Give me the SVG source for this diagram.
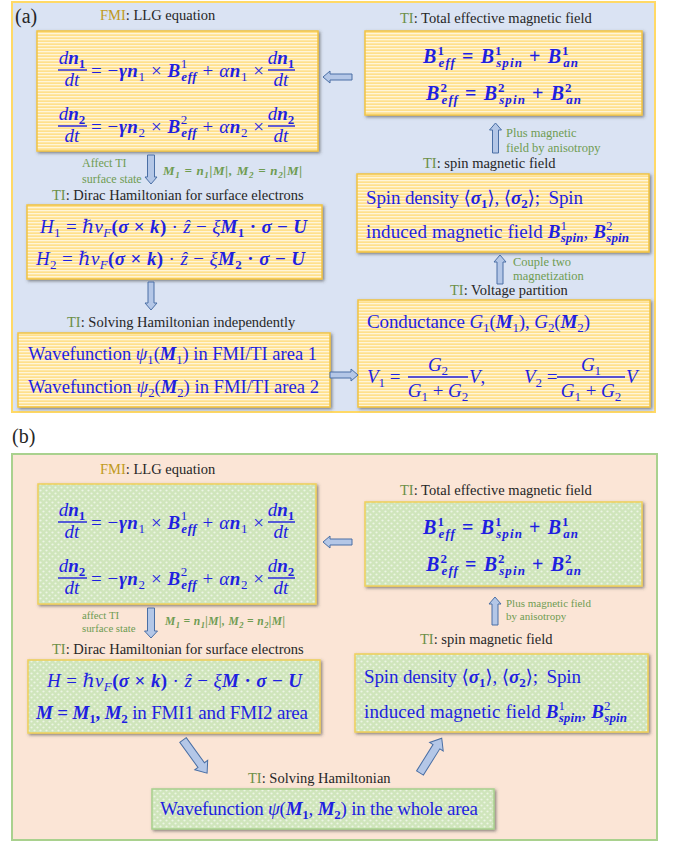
<svg xmlns="http://www.w3.org/2000/svg" width="683" height="844" viewBox="0 0 683 844">
<defs>
<style>
.lab{font-family:"Liberation Serif","DejaVu Serif",serif;font-size:14.5px;fill:#262626}
.ti{fill:#6b8f47}
.fmi{fill:#c09a1c}
.note{font-family:"Liberation Serif","DejaVu Serif",serif;font-size:12.5px;fill:#6f9c52}
.nm{font-family:"Liberation Serif","DejaVu Serif",serif;font-size:13px;fill:#6f9c52;font-weight:bold;font-style:italic}
.m{font-family:"Liberation Serif","DejaVu Serif",serif;fill:#1f1fe0;font-size:19px}
.i{font-style:italic}
.bi{font-style:italic;font-weight:bold}
.bd{font-weight:bold}
.up{font-style:normal}
.sb{font-size:13px}
.fl{stroke:#1f1fe0;stroke-width:1.4}
.boxa{fill:url(#stripes);stroke:#f2c443;stroke-width:1.5;filter:url(#sh)}
.boxb{fill:url(#dots);stroke:#f0cf5a;stroke-width:1.5;filter:url(#sh)}
.boxbw{fill:url(#dots);stroke:#a9d18e;stroke-width:1.5;filter:url(#sh)}
.arr{fill:#b4c7e7;stroke:#4a6fa5;stroke-width:1}
</style>
<pattern id="stripes" width="6" height="3" patternUnits="userSpaceOnUse">
<rect width="6" height="3" fill="#ffe08c"/>
<rect width="6" height="1.3" fill="#fff5d8"/>
</pattern>
<pattern id="dots" width="6" height="6" patternUnits="userSpaceOnUse">
<rect width="6" height="6" fill="#cfe5bb"/>
<circle cx="1.5" cy="1.5" r="1.1" fill="#ecf5e4"/>
<circle cx="4.5" cy="4.5" r="1.1" fill="#ecf5e4"/>
</pattern>
<filter id="sh" x="-10%" y="-10%" width="120%" height="130%">
<feDropShadow dx="1.5" dy="1.5" stdDeviation="1.5" flood-color="#404040" flood-opacity="0.6"/>
</filter>
</defs>

<!-- Panel (a) -->
<g id="panel-a">
<rect x="12" y="2" width="643" height="410" fill="#dae3f3" stroke="#ffd966" stroke-width="2"/>
<text class="lab" x="15" y="23" style="font-size:20px">(a)</text>
</g>

<g id="a-llg">
<text class="lab" x="100" y="20"><tspan class="fmi">FMI</tspan>: LLG equation</text>
<rect class="boxa" x="37" y="31" width="281" height="120"/>
<text class="m i" x="72" y="64" text-anchor="middle">d<tspan class="bi">n</tspan><tspan class="sb bd up" dy="4">1</tspan></text>
<line class="fl" x1="58" y1="70" x2="87" y2="70"/>
<text class="m i" x="72" y="86" text-anchor="middle">dt</text>
<text class="m" x="91" y="77" textLength="173" lengthAdjust="spacing">= −<tspan class="bi">γn</tspan><tspan class="sb" dy="4">1</tspan><tspan dy="-4"> × </tspan><tspan class="bi">B</tspan><tspan class="sb" dy="-9">1</tspan><tspan class="sb bi" dx="-6.5" dy="13">eff</tspan><tspan dy="-4"> + </tspan><tspan class="i">α</tspan><tspan class="bi">n</tspan><tspan class="sb" dy="4">1</tspan><tspan dy="-4"> ×</tspan></text>
<text class="m i" x="281" y="64" text-anchor="middle">d<tspan class="bi">n</tspan><tspan class="sb bd up" dy="4">1</tspan></text>
<line class="fl" x1="268" y1="70" x2="295" y2="70"/>
<text class="m i" x="281" y="86" text-anchor="middle">dt</text>

<text class="m i" x="72" y="120" text-anchor="middle">d<tspan class="bi">n</tspan><tspan class="sb bd up" dy="4">2</tspan></text>
<line class="fl" x1="58" y1="126" x2="87" y2="126"/>
<text class="m i" x="72" y="142" text-anchor="middle">dt</text>
<text class="m" x="91" y="133" textLength="173" lengthAdjust="spacing">= −<tspan class="bi">γn</tspan><tspan class="sb" dy="4">2</tspan><tspan dy="-4"> × </tspan><tspan class="bi">B</tspan><tspan class="sb" dy="-9">2</tspan><tspan class="sb bi" dx="-6.5" dy="13">eff</tspan><tspan dy="-4"> + </tspan><tspan class="i">α</tspan><tspan class="bi">n</tspan><tspan class="sb" dy="4">2</tspan><tspan dy="-4"> ×</tspan></text>
<text class="m i" x="281" y="120" text-anchor="middle">d<tspan class="bi">n</tspan><tspan class="sb bd up" dy="4">2</tspan></text>
<line class="fl" x1="268" y1="126" x2="295" y2="126"/>
<text class="m i" x="281" y="142" text-anchor="middle">dt</text>
</g>

<g id="a-total">
<text class="lab" x="400" y="23"><tspan class="ti">TI</tspan>: Total effective magnetic field</text>
<rect class="boxa" x="365" y="31" width="277" height="84"/>
<text class="m bd" x="423" y="63" style="font-size:20px" textLength="155" lengthAdjust="spacing"><tspan class="bi">B</tspan><tspan class="sb" dy="-8">1</tspan><tspan class="sb bi" dx="-6.5" dy="12">eff</tspan><tspan dy="-4"> = </tspan><tspan class="bi">B</tspan><tspan class="sb" dy="-8">1</tspan><tspan class="sb bi" dx="-6.5" dy="12">spin</tspan><tspan dy="-4"> + </tspan><tspan class="bi">B</tspan><tspan class="sb" dy="-8">1</tspan><tspan class="sb bi" dx="-6.5" dy="12">an</tspan></text>
<text class="m bd" x="426" y="100" style="font-size:20px" textLength="155" lengthAdjust="spacing"><tspan class="bi">B</tspan><tspan class="sb" dy="-8">2</tspan><tspan class="sb bi" dx="-6.5" dy="12">eff</tspan><tspan dy="-4"> = </tspan><tspan class="bi">B</tspan><tspan class="sb" dy="-8">2</tspan><tspan class="sb bi" dx="-6.5" dy="12">spin</tspan><tspan dy="-4"> + </tspan><tspan class="bi">B</tspan><tspan class="sb" dy="-8">2</tspan><tspan class="sb bi" dx="-6.5" dy="12">an</tspan></text>
</g>

<g id="a-spin">
<text class="lab" x="423" y="168"><tspan class="ti">TI</tspan>: spin magnetic field</text>
<rect class="boxa" x="357" y="174" width="292" height="78"/>
<text class="m" x="366" y="204" textLength="217" lengthAdjust="spacing">Spin density ⟨<tspan class="bi">σ</tspan><tspan class="sb bd" dy="4">1</tspan><tspan dy="-4">⟩, ⟨</tspan><tspan class="bi">σ</tspan><tspan class="sb bd" dy="4">2</tspan><tspan dy="-4">⟩; </tspan><tspan dx="4">Spin</tspan></text>
<text class="m" x="366" y="238" textLength="263" lengthAdjust="spacing">induced magnetic field <tspan class="bi">B</tspan><tspan class="sb" dy="-8">1</tspan><tspan class="sb bi" dx="-6.5" dy="12">spin</tspan><tspan dy="-4">, </tspan><tspan class="bi">B</tspan><tspan class="sb" dy="-8">2</tspan><tspan class="sb bi" dx="-6.5" dy="12">spin</tspan></text>
</g>

<g id="a-volt">
<text class="lab" x="450" y="295"><tspan class="ti">TI</tspan>: Voltage partition</text>
<rect class="boxa" x="358" y="300" width="292" height="107"/>
<text class="m" x="367" y="328" textLength="223" lengthAdjust="spacing">Conductance <tspan class="i">G</tspan><tspan class="sb" dy="4">1</tspan><tspan dy="-4">(</tspan><tspan class="bi">M</tspan><tspan class="sb" dy="4">1</tspan><tspan dy="-4">), </tspan><tspan class="i">G</tspan><tspan class="sb" dy="4">2</tspan><tspan dy="-4">(</tspan><tspan class="bi">M</tspan><tspan class="sb" dy="4">2</tspan><tspan dy="-4">)</tspan></text>
<text class="m" x="367" y="383"><tspan class="i">V</tspan><tspan class="sb" dy="4">1</tspan><tspan dy="-4"> =</tspan></text>
<text class="m i" x="438" y="371" text-anchor="middle">G<tspan class="sb up" dy="4">2</tspan></text>
<line class="fl" x1="408" y1="377" x2="468" y2="377"/>
<text class="m i" x="438" y="397" text-anchor="middle">G<tspan class="sb up" dy="4">1</tspan><tspan class="up" dy="-4"> + </tspan>G<tspan class="sb up" dy="4">2</tspan></text>
<text class="m" x="469" y="383"><tspan class="i">V</tspan>,</text>
<text class="m" x="524" y="383"><tspan class="i">V</tspan><tspan class="sb" dy="4">2</tspan><tspan dy="-4"> =</tspan></text>
<text class="m i" x="591" y="371" text-anchor="middle">G<tspan class="sb up" dy="4">1</tspan></text>
<line class="fl" x1="557" y1="377" x2="625" y2="377"/>
<text class="m i" x="591" y="397" text-anchor="middle">G<tspan class="sb up" dy="4">1</tspan><tspan class="up" dy="-4"> + </tspan>G<tspan class="sb up" dy="4">2</tspan></text>
<text class="m i" x="626" y="383">V</text>
</g>

<g id="a-ham">
<text class="lab" x="52" y="200"><tspan class="ti">TI</tspan>: Dirac Hamiltonian for surface electrons</text>
<rect class="boxa" x="27" y="205" width="295" height="74"/>
<text class="m" x="40" y="233" textLength="267" lengthAdjust="spacing"><tspan class="i">H</tspan><tspan class="sb" dy="4">1</tspan><tspan dy="-4"> = </tspan><tspan class="i">ℏv</tspan><tspan class="sb i" dy="4">F</tspan><tspan class="bd" dy="-4">(</tspan><tspan class="bi">σ</tspan><tspan class="bd"> × </tspan><tspan class="bi">k</tspan><tspan class="bd">)</tspan> · <tspan class="i">ẑ</tspan> − <tspan class="i">ξ</tspan><tspan class="bi">M</tspan><tspan class="sb bd" dy="4">1</tspan><tspan class="bd" dy="-4"> · </tspan><tspan class="bi">σ</tspan><tspan class="bd"> − </tspan><tspan class="bi">U</tspan></text>
<text class="m" x="36" y="265" textLength="269" lengthAdjust="spacing"><tspan class="i">H</tspan><tspan class="sb" dy="4">2</tspan><tspan dy="-4"> = </tspan><tspan class="i">ℏv</tspan><tspan class="sb i" dy="4">F</tspan><tspan class="bd" dy="-4">(</tspan><tspan class="bi">σ</tspan><tspan class="bd"> × </tspan><tspan class="bi">k</tspan><tspan class="bd">)</tspan> · <tspan class="i">ẑ</tspan> − <tspan class="i">ξ</tspan><tspan class="bi">M</tspan><tspan class="sb bd" dy="4">2</tspan><tspan class="bd" dy="-4"> · </tspan><tspan class="bi">σ</tspan><tspan class="bd"> − </tspan><tspan class="bi">U</tspan></text>
</g>

<g id="a-wave">
<text class="lab" x="67" y="327"><tspan class="ti">TI</tspan>: Solving Hamiltonian independently</text>
<rect class="boxa" x="18" y="333" width="312" height="74"/>
<text class="m" x="28" y="360" textLength="289" lengthAdjust="spacingAndGlyphs">Wavefunction <tspan class="i">ψ</tspan><tspan class="sb" dy="4">1</tspan><tspan dy="-4">(</tspan><tspan class="bi">M</tspan><tspan class="sb" dy="4">1</tspan><tspan dy="-4">) in FMI/TI area 1</tspan></text>
<text class="m" x="28" y="393" textLength="291" lengthAdjust="spacingAndGlyphs">Wavefunction <tspan class="i">ψ</tspan><tspan class="sb" dy="4">2</tspan><tspan dy="-4">(</tspan><tspan class="bi">M</tspan><tspan class="sb" dy="4">2</tspan><tspan dy="-4">) in FMI/TI area 2</tspan></text>
</g>

<g id="a-connectors">
<path class="arr" d="M352,74 H330 V71 L323,77 L330,83 V80 H352 Z"/>
<path class="arr" d="M147.5,155 H154.5 V177 H157 L151,184 L145,177 H147.5 Z"/>
<path class="arr" d="M148,282 H154 V303 H157 L151,310 L145,303 H148 Z"/>
<path class="arr" d="M330,372 H351 V369 L358,375 L351,381 V378 H330 Z"/>
<path class="arr" d="M492.5,153 V130 H489.5 L495.5,123 L501.5,130 H498.5 V153 Z"/>
<path class="arr" d="M497,284 V262 H494 L500,255 L506,262 H503 V284 Z"/>
<text class="note" x="82" y="167" style="font-size:12px">Affect TI</text>
<text class="note" x="82" y="183" style="font-size:12px">surface state</text>
<text class="nm" x="163" y="175" textLength="139" lengthAdjust="spacing">M<tspan font-size="9" dy="3">1</tspan><tspan dy="-3"> = </tspan>n<tspan font-size="9" dy="3">1</tspan><tspan dy="-3">|M|, M</tspan><tspan font-size="9" dy="3">2</tspan><tspan dy="-3"> = </tspan>n<tspan font-size="9" dy="3">2</tspan><tspan dy="-3">|M|</tspan></text>
<text class="note" x="506" y="137">Plus magnetic</text>
<text class="note" x="506" y="152">field by anisotropy</text>
<text class="note" x="513" y="266">Couple two</text>
<text class="note" x="513" y="280">magnetization</text>
</g>

<!-- Panel (b) -->
<g id="panel-b">
<text class="lab" x="12" y="443" style="font-size:20px">(b)</text>
<rect x="12" y="454" width="645" height="386" fill="#fbe5d6" stroke="#a9d18e" stroke-width="2"/>
</g>

<g id="b-llg">
<text class="lab" x="100" y="474"><tspan class="fmi">FMI</tspan>: LLG equation</text>
<rect class="boxb" x="38" y="484" width="278" height="120"/>
<text class="m i" x="72" y="516" text-anchor="middle">d<tspan class="bi">n</tspan><tspan class="sb bd up" dy="4">1</tspan></text>
<line class="fl" x1="58" y1="522" x2="87" y2="522"/>
<text class="m i" x="72" y="538" text-anchor="middle">dt</text>
<text class="m" x="91" y="529" textLength="173" lengthAdjust="spacing">= −<tspan class="bi">γn</tspan><tspan class="sb" dy="4">1</tspan><tspan dy="-4"> × </tspan><tspan class="bi">B</tspan><tspan class="sb" dy="-9">1</tspan><tspan class="sb bi" dx="-6.5" dy="13">eff</tspan><tspan dy="-4"> + </tspan><tspan class="i">α</tspan><tspan class="bi">n</tspan><tspan class="sb" dy="4">1</tspan><tspan dy="-4"> ×</tspan></text>
<text class="m i" x="281" y="516" text-anchor="middle">d<tspan class="bi">n</tspan><tspan class="sb bd up" dy="4">1</tspan></text>
<line class="fl" x1="268" y1="522" x2="295" y2="522"/>
<text class="m i" x="281" y="538" text-anchor="middle">dt</text>

<text class="m i" x="72" y="572" text-anchor="middle">d<tspan class="bi">n</tspan><tspan class="sb bd up" dy="4">2</tspan></text>
<line class="fl" x1="58" y1="578" x2="87" y2="578"/>
<text class="m i" x="72" y="594" text-anchor="middle">dt</text>
<text class="m" x="91" y="585" textLength="173" lengthAdjust="spacing">= −<tspan class="bi">γn</tspan><tspan class="sb" dy="4">2</tspan><tspan dy="-4"> × </tspan><tspan class="bi">B</tspan><tspan class="sb" dy="-9">2</tspan><tspan class="sb bi" dx="-6.5" dy="13">eff</tspan><tspan dy="-4"> + </tspan><tspan class="i">α</tspan><tspan class="bi">n</tspan><tspan class="sb" dy="4">2</tspan><tspan dy="-4"> ×</tspan></text>
<text class="m i" x="281" y="572" text-anchor="middle">d<tspan class="bi">n</tspan><tspan class="sb bd up" dy="4">2</tspan></text>
<line class="fl" x1="268" y1="578" x2="295" y2="578"/>
<text class="m i" x="281" y="594" text-anchor="middle">dt</text>
</g>

<g id="b-total">
<text class="lab" x="400" y="495"><tspan class="ti">TI</tspan>: Total effective magnetic field</text>
<rect class="boxb" x="365" y="502" width="277" height="84"/>
<text class="m bd" x="423" y="534" style="font-size:20px" textLength="155" lengthAdjust="spacing"><tspan class="bi">B</tspan><tspan class="sb" dy="-8">1</tspan><tspan class="sb bi" dx="-6.5" dy="12">eff</tspan><tspan dy="-4"> = </tspan><tspan class="bi">B</tspan><tspan class="sb" dy="-8">1</tspan><tspan class="sb bi" dx="-6.5" dy="12">spin</tspan><tspan dy="-4"> + </tspan><tspan class="bi">B</tspan><tspan class="sb" dy="-8">1</tspan><tspan class="sb bi" dx="-6.5" dy="12">an</tspan></text>
<text class="m bd" x="426" y="571" style="font-size:20px" textLength="155" lengthAdjust="spacing"><tspan class="bi">B</tspan><tspan class="sb" dy="-8">2</tspan><tspan class="sb bi" dx="-6.5" dy="12">eff</tspan><tspan dy="-4"> = </tspan><tspan class="bi">B</tspan><tspan class="sb" dy="-8">2</tspan><tspan class="sb bi" dx="-6.5" dy="12">spin</tspan><tspan dy="-4"> + </tspan><tspan class="bi">B</tspan><tspan class="sb" dy="-8">2</tspan><tspan class="sb bi" dx="-6.5" dy="12">an</tspan></text>
</g>

<g id="b-spin">
<text class="lab" x="420" y="644"><tspan class="ti">TI</tspan>: spin magnetic field</text>
<rect class="boxb" x="355" y="654" width="293" height="78"/>
<text class="m" x="364" y="683" textLength="217" lengthAdjust="spacing">Spin density ⟨<tspan class="bi">σ</tspan><tspan class="sb bd" dy="4">1</tspan><tspan dy="-4">⟩, ⟨</tspan><tspan class="bi">σ</tspan><tspan class="sb bd" dy="4">2</tspan><tspan dy="-4">⟩; </tspan><tspan dx="4">Spin</tspan></text>
<text class="m" x="364" y="718" textLength="263" lengthAdjust="spacing">induced magnetic field <tspan class="bi">B</tspan><tspan class="sb" dy="-8">1</tspan><tspan class="sb bi" dx="-6.5" dy="12">spin</tspan><tspan dy="-4">, </tspan><tspan class="bi">B</tspan><tspan class="sb" dy="-8">2</tspan><tspan class="sb bi" dx="-6.5" dy="12">spin</tspan></text>
</g>

<g id="b-ham">
<text class="lab" x="52" y="654"><tspan class="ti">TI</tspan>: Dirac Hamiltonian for surface electrons</text>
<rect class="boxb" x="28" y="660" width="292" height="73"/>
<text class="m" x="47" y="687" textLength="255" lengthAdjust="spacing"><tspan class="i">H</tspan> = <tspan class="i">ℏv</tspan><tspan class="sb i" dy="4">F</tspan><tspan class="bd" dy="-4">(</tspan><tspan class="bi">σ</tspan><tspan class="bd"> × </tspan><tspan class="bi">k</tspan><tspan class="bd">)</tspan> · <tspan class="i">ẑ</tspan> − <tspan class="i">ξ</tspan><tspan class="bi">M</tspan><tspan class="bd"> · </tspan><tspan class="bi">σ</tspan><tspan class="bd"> − </tspan><tspan class="bi">U</tspan></text>
<text class="m" x="36" y="719" textLength="272" lengthAdjust="spacing"><tspan class="bi">M</tspan><tspan class="bd"> = </tspan><tspan class="bi">M</tspan><tspan class="sb bd" dy="4">1</tspan><tspan class="bd" dy="-4">, </tspan><tspan class="bi">M</tspan><tspan class="sb bd" dy="4">2</tspan><tspan dy="-4"> in FMI1 and FMI2 area</tspan></text>
</g>

<g id="b-wave">
<text class="lab" x="248" y="783"><tspan class="ti">TI</tspan>: Solving Hamiltonian</text>
<rect class="boxbw" x="152" y="789" width="342" height="40"/>
<text class="m" x="160" y="815" textLength="318" lengthAdjust="spacing">Wavefunction <tspan class="i">ψ</tspan>(<tspan class="bi">M</tspan><tspan class="sb bd" dy="4">1</tspan><tspan dy="-4">, </tspan><tspan class="bi">M</tspan><tspan class="sb bd" dy="4">2</tspan><tspan dy="-4">) in the whole area</tspan></text>
</g>

<g id="b-connectors">
<path class="arr" d="M352,539 H330 V536 L323,542 L330,548 V545 H352 Z"/>
<path class="arr" d="M147.5,608 H154.5 V631 H157.5 L151,638 L144.5,631 H147.5 Z"/>
<path class="arr" d="M492,625 V604 H489 L495,597 L501,604 H498 V625 Z"/>
<path class="arr" transform="translate(183,740) rotate(54)" d="M0,-4 H31 V-8 L41,0 L31,8 V4 H0 Z"/>
<path class="arr" transform="translate(420,773) rotate(-58)" d="M0,-4 H31 V-8 L41,0 L31,8 V4 H0 Z"/>
<text class="note" x="82" y="619" style="font-size:10.8px">affect TI</text>
<text class="note" x="82" y="632" style="font-size:10.8px">surface state</text>
<text class="nm" x="165" y="625" style="font-size:11.5px" textLength="120" lengthAdjust="spacing">M<tspan font-size="8.5" dy="3">1</tspan><tspan dy="-3"> = </tspan>n<tspan font-size="8.5" dy="3">1</tspan><tspan dy="-3">|M|, M</tspan><tspan font-size="8.5" dy="3">2</tspan><tspan dy="-3"> = </tspan>n<tspan font-size="8.5" dy="3">2</tspan><tspan dy="-3">|M|</tspan></text>
<text class="note" x="506" y="607" style="font-size:11px">Plus magnetic field</text>
<text class="note" x="506" y="620" style="font-size:11px">by anisotropy</text>
</g>
</svg>
